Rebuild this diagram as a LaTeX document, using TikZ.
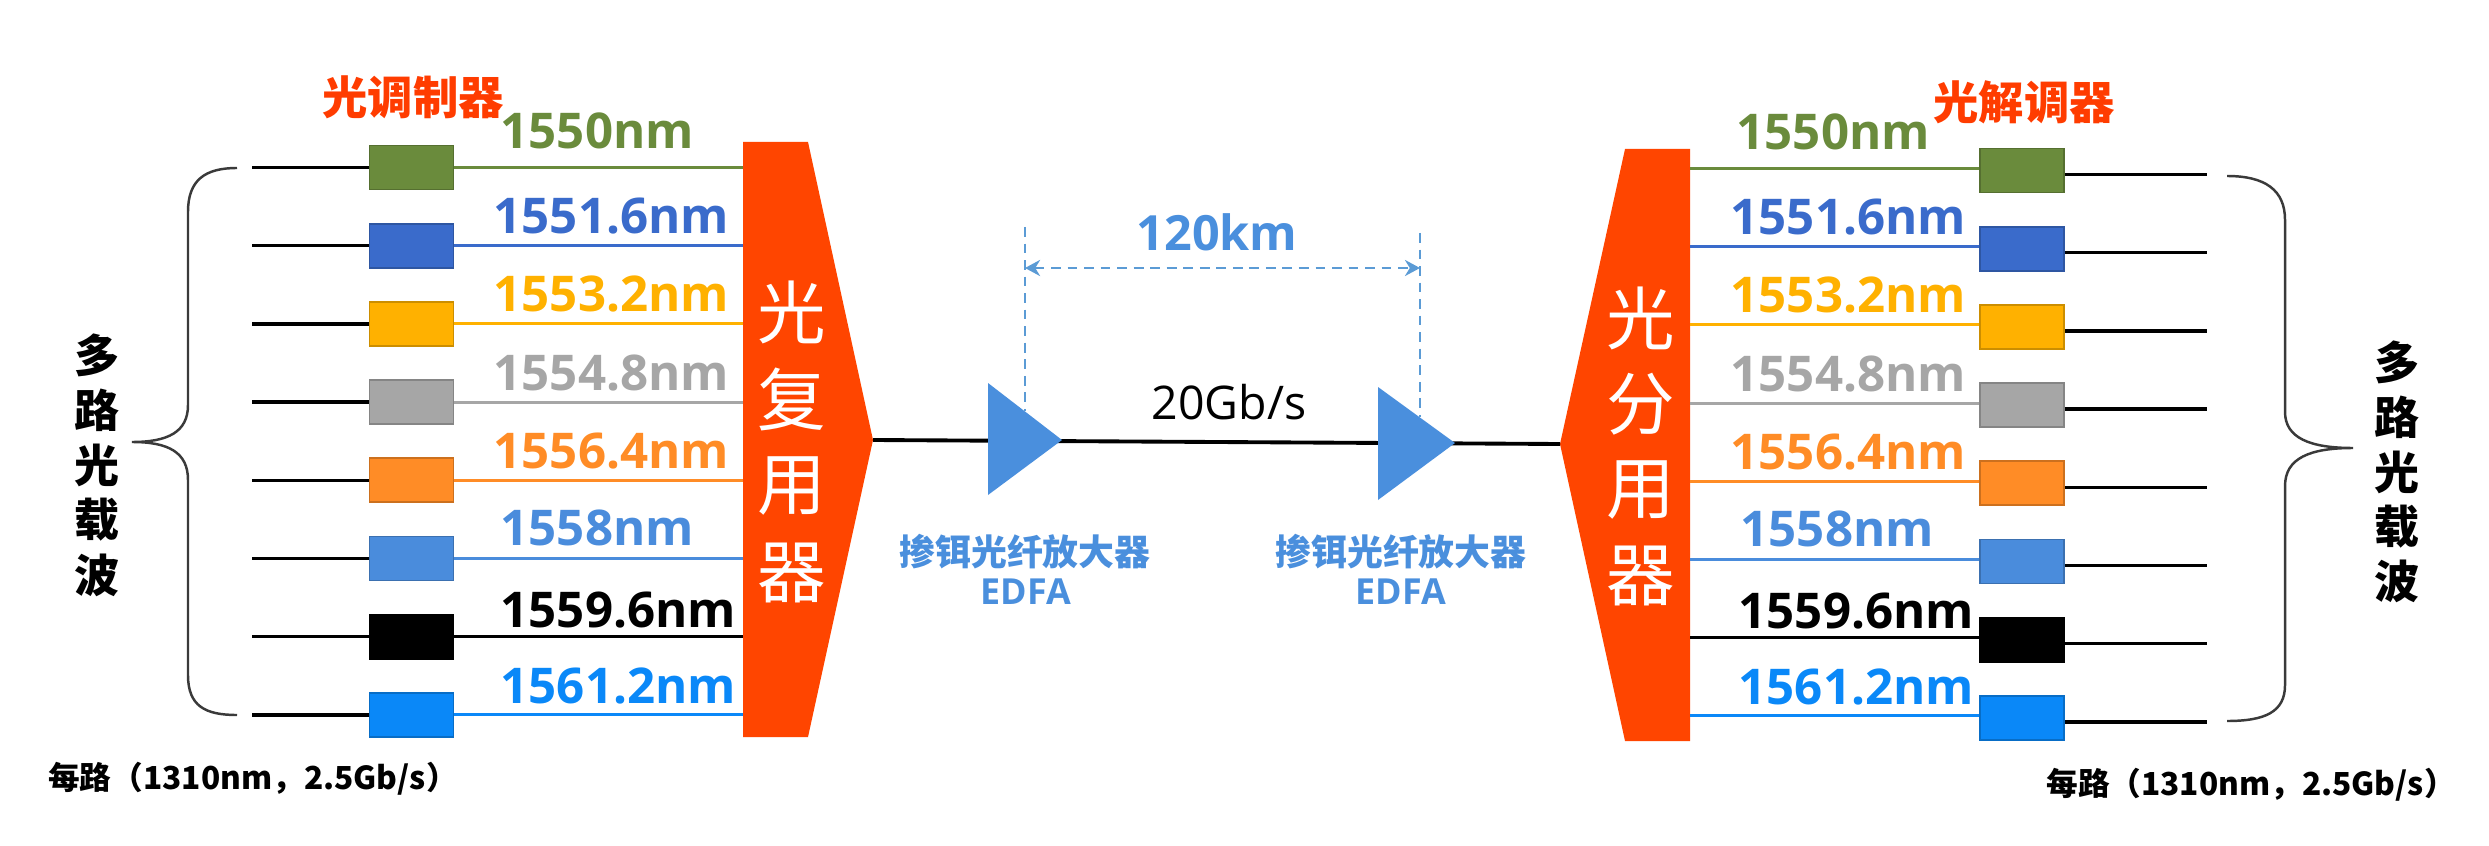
\documentclass[tikz,border=0pt]{standalone}
\usepackage{fontspec}
\setmainfont{Open Sans}
\newfontfamily\cjk{Noto Sans CJK SC}
\usetikzlibrary{arrows.meta}

% channel colours
\definecolor{cG}{HTML}{6A8B3C}
\definecolor{cB}{HTML}{3A6BCB}
\definecolor{cY}{HTML}{FFB100}
\definecolor{cS}{HTML}{A6A6A6}
\definecolor{cO}{HTML}{FF8C26}
\definecolor{cL}{HTML}{4A8CDC}
\definecolor{cK}{HTML}{000000}
\definecolor{cA}{HTML}{0A88F8}
% equipment colours
\definecolor{muxred}{HTML}{FF4500}
\definecolor{titlered}{HTML}{FF3C00}
\definecolor{edfa}{HTML}{4A8FDD}
\definecolor{dimblue}{HTML}{5B9BD5}
\definecolor{bracegray}{HTML}{3A3A3A}

\tikzset{
  box/.style={draw=#1!80!black, fill=#1, line width=0.5pt, minimum width=0.84cm, minimum height=0.44cm, inner sep=0pt},
  feed/.style={line width=1pt, black},
  fiber/.style={line width=0.9pt},
  trunk/.style={line width=1.1pt, black},
  wl/.style={font=\fontsize{14pt}{16pt}\selectfont\bfseries, inner sep=0pt, anchor=base west},
  devtitle/.style={font=\cjk\bfseries\fontsize{12.9pt}{15pt}\selectfont, text=titlered, inner sep=0pt},
  sidechar/.style={font=\cjk\bfseries\fontsize{12.8pt}{15pt}\selectfont, inner sep=0pt},
  muxchar/.style={font=\cjk\fontsize{19.5pt}{22pt}\selectfont, text=white, inner sep=0pt},
  ampname/.style={font=\cjk\bfseries\fontsize{10.2pt}{12pt}\selectfont, text=edfa, inner sep=0pt},
  ampcode/.style={font=\fontsize{10.2pt}{12pt}\selectfont\bfseries, text=edfa, inner sep=0pt},
  note/.style={font=\cjk\bfseries\fontsize{9pt}{11pt}\selectfont, inner sep=0pt},
  dimline/.style={dimblue, line width=0.6pt, dash pattern=on 2.8pt off 1.9pt},
  bracepath/.style={bracegray, line width=0.7pt},
}

\begin{document}
\begin{tikzpicture}[x=0.01cm, y=-0.01cm]
\fill[white] (0,0) rectangle (2489,846);
\useasboundingbox (0,0) rectangle (2489,846);

% ---- multiplexer and demultiplexer bodies ----
\fill[muxred] (743,142) -- (808,142) -- (873,440) -- (808,737) -- (743,737) -- cycle;
\fill[muxred] (1690,149) -- (1625,149) -- (1560,444) -- (1625,741) -- (1690,741) -- cycle;
\coordinate (muxtip) at (873,440);
\coordinate (dmxtip) at (1560,444);

\foreach \ch [count=\k] in {光,复,用,器}
  \node[muxchar] (mt\k) at (792,225+87*\k) {\ch};
\foreach \ch [count=\k] in {光,分,用,器}
  \node[muxchar] (dt\k) at (1641,232+86*\k) {\ch};

% ---- eight wavelength channels ----
\foreach \c/\lab/\xl/\xr/\dy [count=\i] in {
    cG/1550nm/500/1736/19,
    cB/1551.6nm/493/1730/12,
    cY/1553.2nm/493/1730/12,
    cS/1554.8nm/493/1730/12,
    cO/1556.4nm/493/1730/12,
    cL/1558nm/500/1740/13,
    cK/1559.6nm/500/1738/9,
    cA/1561.2nm/500/1738/11} {
  \pgfmathsetmacro\y{167.5+78.2*(\i-1)}
  % transmitter side
  \coordinate (inL\i) at (252,\y);
  \coordinate (muxin\i) at (743,\y);
  \node[box=\c] (ml\i) at (411.5,\y) {};
  \draw[feed] (inL\i) -- (ml\i.west);
  \draw[fiber, \c] (ml\i.east) -- (muxin\i);
  \node[wl, text=\c] (wlL\i) at (\xl,\y-\dy) {\lab};
  % receiver side
  \coordinate (dmxout\i) at (1690,\y+1);
  \coordinate (outR\i) at (2207,\y+7);
  \node[box=\c] (dr\i) at (2022,\y+3) {};
  \draw[fiber, \c] (dmxout\i) -- (dr\i.west |- dmxout\i);
  \draw[feed] (dr\i.east |- outR\i) -- (outR\i);
  \node[wl, text=\c] (wlR\i) at (\xr,\y+1-\dy) {\lab};
}

% ---- device titles ----
\node[devtitle] (modt) at (413,97) {光调制器};
\node[devtitle] (demt) at (2024,102) {光解调器};

% ---- braces and carrier labels ----
\draw[bracepath] (237,168) .. controls (205,168) and (188,180) .. (188,212)
  -- (188,405) .. controls (188,432) and (168,442) .. (132,442)
  .. controls (168,442) and (188,452) .. (188,480)
  -- (188,675) .. controls (188,706) and (205,715) .. (237,715);
\draw[bracepath] (2227,176) .. controls (2265,176) and (2285,190) .. (2285,220)
  -- (2285,412) .. controls (2285,438) and (2310,448) .. (2353,448)
  .. controls (2310,448) and (2285,458) .. (2285,486)
  -- (2285,685) .. controls (2285,712) and (2265,721) .. (2227,721);
\foreach \ch [count=\k] in {多,路,光,载,波} {
  \node[sidechar] (lc\k) at (97,300+55*\k) {\ch};
  \node[sidechar] (rc\k) at (2397,308+54.75*\k) {\ch};
}

% ---- trunk fibre with amplifiers ----
\draw[trunk] (muxtip) -- (dmxtip);
\fill[edfa] (988,383) -- (1062,440) -- (988,495) -- cycle;
\fill[edfa] (1378,387) -- (1455,443) -- (1378,500) -- cycle;
\node[ampname] (a1n) at (1025,552) {掺铒光纤放大器};
\node[ampcode] (a1c) at (1026,592) {EDFA};
\node[ampname] (a2n) at (1401,552) {掺铒光纤放大器};
\node[ampcode] (a2c) at (1401,592) {EDFA};
\node[font=\fontsize{13.2pt}{15pt}\selectfont, inner sep=0pt] (rate) at (1229,402) {20Gb/s};

% ---- span length ----
\coordinate (s1top) at (1025,227);
\coordinate (s1bot) at (1025,411);
\coordinate (s2top) at (1420,233);
\coordinate (s2bot) at (1420,417);
\coordinate (s1mid) at (1025,268);
\coordinate (s2mid) at (1420,268);
\draw[dimline] (s1top) -- (s1bot);
\draw[dimline] (s2top) -- (s2bot);
\draw[dimline, {Stealth[length=4.3pt,width=4.6pt]}-{Stealth[length=4.3pt,width=4.6pt]}] (s1mid) -- (s2mid);
\node[font=\fontsize{13.8pt}{16pt}\selectfont\bfseries, text=edfa, inner sep=0pt] (span) at (1217,232) {120km};

% ---- per-channel notes ----
\node[note] (noteL) at (253,779) {每路（1310nm，2.5Gb/s）};
\node[note] (noteR) at (2251,785) {每路（1310nm，2.5Gb/s）};
\end{tikzpicture}
\end{document}
